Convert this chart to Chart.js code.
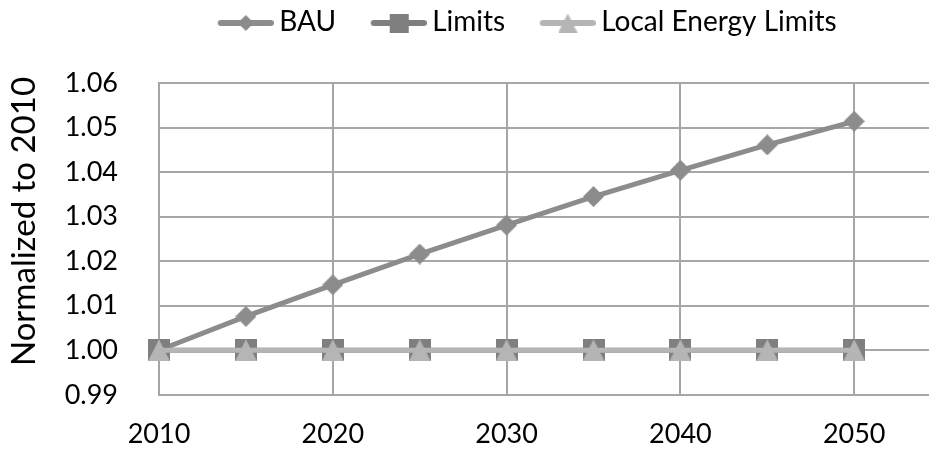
<!DOCTYPE html>
<html>
<head>
<meta charset="utf-8">
<script src="https://cdn.jsdelivr.net/npm/chart.js@4/dist/chart.umd.min.js"></script>
<style>
  html, body { margin: 0; padding: 0; background: #fff; overflow: hidden; }
  #wrap { width: 1057px; height: 452px; }
</style>
</head>
<body>
<div id="wrap"><canvas id="c" width="1057" height="452"></canvas></div>
<script>
// Years on the horizontal axis
const years = [2010, 2015, 2020, 2025, 2030, 2035, 2040, 2045, 2050];
// Scenario values, normalized to 2010
const bau = [1.0000, 1.0076, 1.0147, 1.0216, 1.0281, 1.0345, 1.0404, 1.0461, 1.0514];
const limits = [1.00, 1.00, 1.00, 1.00, 1.00, 1.00, 1.00, 1.00, 1.00];
const localEnergyLimits = [1.00, 1.00, 1.00, 1.00, 1.00, 1.00, 1.00, 1.00, 1.00];
const seriesNames = ['BAU', 'Limits', 'Local Energy Limits'];
const yTitle = 'Normalized to 2010';

const FONT = 'Lato, "Open Sans", sans-serif';
const colors = { bau: '#8c8c8c', limits: '#7f7f7f', local: '#b5b5b5' };
const gridColor = '#a6a6a6';

// Marker shapes drawn on small canvases
function markerCanvas(shape, size, color) {
  const c = document.createElement('canvas');
  c.width = size; c.height = size;
  const g = c.getContext('2d');
  g.fillStyle = color;
  const s = size;
  g.beginPath();
  if (shape === 'diamond') {
    g.moveTo(s / 2, 0); g.lineTo(s, s / 2); g.lineTo(s / 2, s); g.lineTo(0, s / 2);
  } else if (shape === 'square') {
    g.rect(0, 0, s, s);
  } else {
    g.moveTo(s / 2, 0); g.lineTo(s, s); g.lineTo(0, s);
  }
  g.closePath();
  g.fill();
  return c;
}

// Legend swatch: a short line with the marker in the middle.
// The blank lead-in on the left keeps space between legend entries.
const SW_LEAD = 35, SW_LINE = 56;
const SW_BOX = 74;
function legendSwatch(shape, mSize, color) {
  const w = SW_LEAD + SW_LINE, h = 30;
  const c = document.createElement('canvas');
  c.width = w; c.height = h;
  const g = c.getContext('2d');
  const cy = h / 2 + 1;
  g.strokeStyle = color;
  g.lineWidth = 6;
  g.lineCap = 'round';
  g.beginPath(); g.moveTo(SW_LEAD + 3, cy); g.lineTo(w - 3, cy); g.stroke();
  const m = markerCanvas(shape, mSize, color);
  g.drawImage(m, SW_LEAD + SW_LINE / 2 - mSize / 2, cy - mSize / 2);
  return c;
}

const swatches = [
  legendSwatch('diamond', 16, colors.bau),
  legendSwatch('square', 19, colors.limits),
  legendSwatch('triangle', 19, colors.local)
];

const toXY = (vals) => vals.map((v, i) => ({ x: years[i], y: v }));

// Vertical axis title
const yTitlePlugin = {
  id: 'yTitle',
  afterDraw(chart) {
    const ctx = chart.ctx;
    ctx.save();
    ctx.translate(24, 221.5);
    ctx.rotate(-Math.PI / 2);
    ctx.font = '33px ' + FONT;
    ctx.fillStyle = '#000';
    ctx.textAlign = 'center';
    ctx.textBaseline = 'middle';
    ctx.fillText(yTitle, 0, 0);
    ctx.restore();
  }
};

// Fixed legend band height
const legendHeightPlugin = {
  id: 'legendHeight',
  afterInit(chart) {
    const lg = chart.legend;
    if (!lg) return;
    const fit = lg.fit;
    lg.fit = function () { fit.call(this); this.height = 83; };
  }
};

new Chart(document.getElementById('c'), {
  type: 'line',
  data: {
    datasets: [
      {
        label: seriesNames[0], data: toXY(bau), order: 3,
        borderColor: colors.bau, borderWidth: 5,
        pointStyle: markerCanvas('diamond', 21, colors.bau),
        clip: false
      },
      {
        label: seriesNames[1], data: toXY(limits), order: 2,
        borderColor: colors.limits, borderWidth: 5,
        pointStyle: markerCanvas('square', 22, colors.limits),
        clip: false
      },
      {
        label: seriesNames[2], data: toXY(localEnergyLimits), order: 1,
        borderColor: colors.local, borderWidth: 5,
        pointStyle: markerCanvas('triangle', 22, colors.local),
        clip: false
      }
    ]
  },
  options: {
    responsive: false,
    animation: false,
    devicePixelRatio: 1,
    events: [],
    layout: { padding: { left: 0, right: 29, top: 0, bottom: 0 } },
    elements: { line: { tension: 0 } },
    plugins: {
      tooltip: { enabled: false },
      legend: {
        position: 'top',
        labels: {
          usePointStyle: true,
          pointStyleWidth: SW_BOX,
          padding: 8,
          color: '#000',
          font: { family: FONT, size: 28 },
          generateLabels(chart) {
            return chart.data.datasets.map((ds, i) => ({
              text: ds.label,
              pointStyle: swatches[i],
              fillStyle: 'transparent',
              strokeStyle: 'transparent',
              lineWidth: 0,
              hidden: false,
              datasetIndex: i
            }));
          }
        }
      }
    },
    scales: {
      x: {
        type: 'linear',
        min: 2010,
        max: 2060,
        afterFit(scale) { scale.height = 57; scale.paddingLeft = 0; scale.paddingRight = 0; },
        ticks: {
          stepSize: 10,
          color: '#000',
          padding: 23,
          font: { family: FONT, size: 27 },
          maxRotation: 0,
          callback: (v) => String(v)
        },
        grid: { color: gridColor, lineWidth: 2, drawTicks: false },
        border: { color: gridColor, width: 2 }
      },
      y: {
        min: 0.99,
        max: 1.06,
        afterFit(scale) { scale.width = 159; },
        ticks: {
          stepSize: 0.01,
          color: '#000',
          padding: 41,
          font: { family: FONT, size: 27 },
          callback: (v) => Number(v).toFixed(2)
        },
        grid: { color: gridColor, lineWidth: 2, drawTicks: false },
        border: { color: gridColor, width: 2 }
      }
    }
  },
  plugins: [yTitlePlugin, legendHeightPlugin]
});
</script>
</body>
</html>
